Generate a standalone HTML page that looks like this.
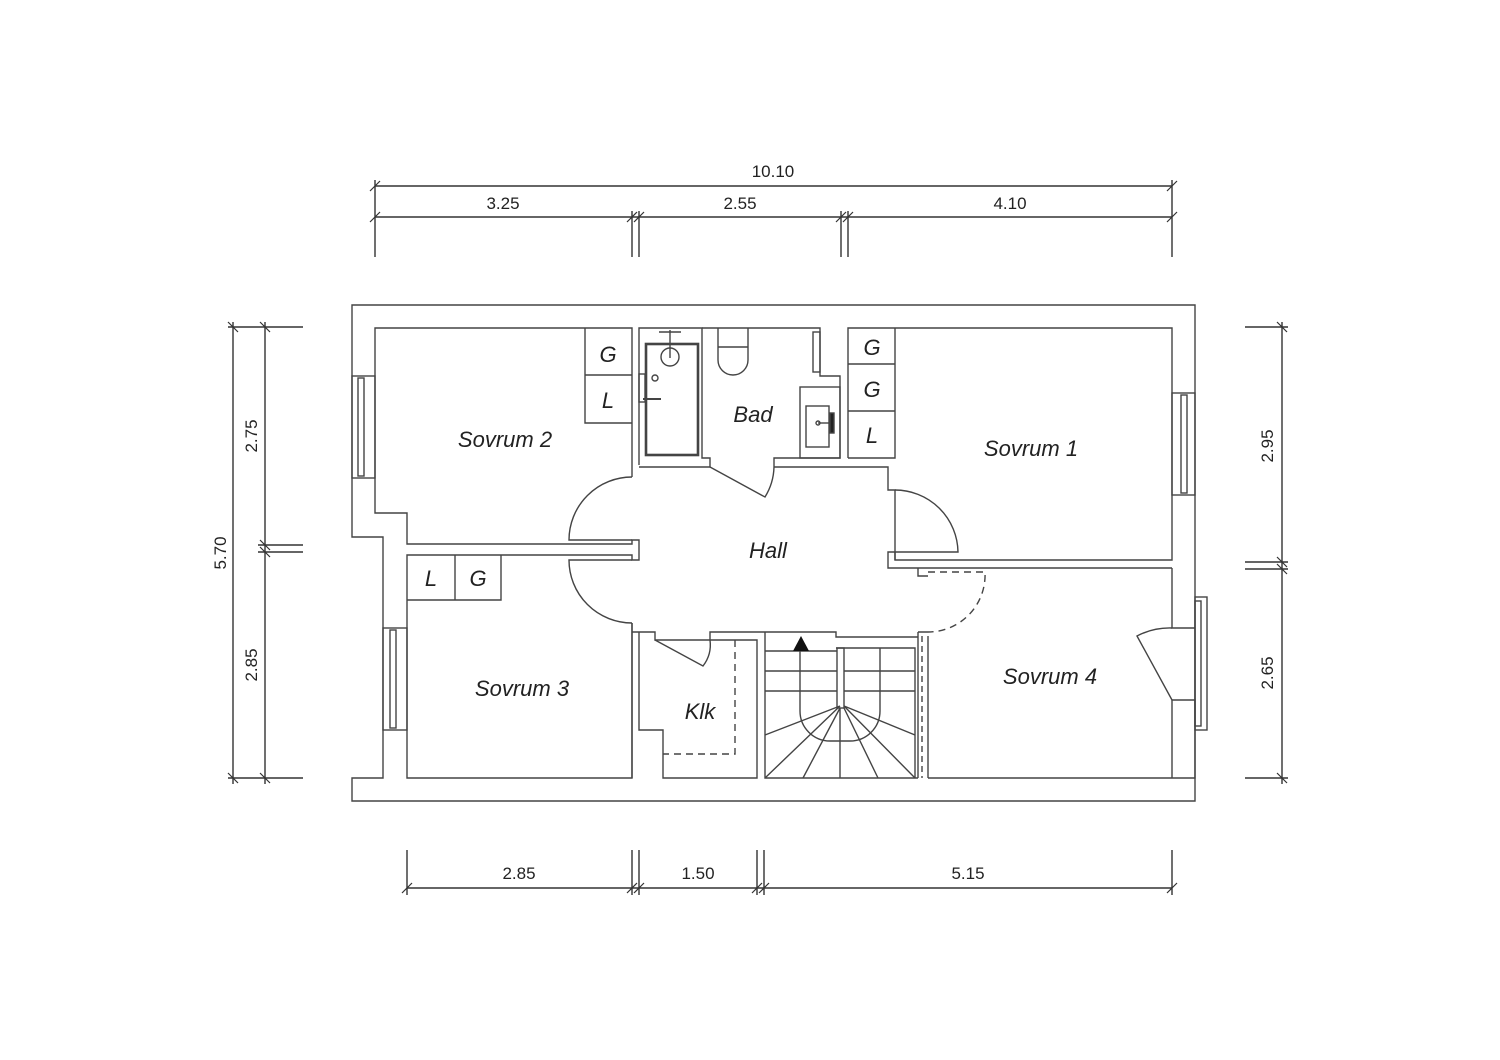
<!DOCTYPE html>
<html><head><style>html,body{margin:0;padding:0;background:#fff}svg{display:block}</style></head>
<body>
<svg width="1500" height="1060" viewBox="0 0 1500 1060" xmlns="http://www.w3.org/2000/svg" font-family="Liberation Sans, sans-serif">
<g stroke="#333" stroke-width="1.4" fill="none">
<line x1="375" y1="186" x2="1172" y2="186"/>
<line x1="375" y1="217" x2="1172" y2="217"/>
<line x1="375" y1="180" x2="375" y2="257"/><line x1="1172" y1="180" x2="1172" y2="257"/>
<line x1="632" y1="211" x2="632" y2="257"/><line x1="639" y1="211" x2="639" y2="257"/>
<line x1="841" y1="211" x2="841" y2="257"/><line x1="848" y1="211" x2="848" y2="257"/>
<g stroke-width="1.2">
<line x1="370" y1="191" x2="380" y2="181"/><line x1="1167" y1="191" x2="1177" y2="181"/>
<line x1="370" y1="222" x2="380" y2="212"/><line x1="627" y1="222" x2="637" y2="212"/><line x1="634" y1="222" x2="644" y2="212"/>
<line x1="836" y1="222" x2="846" y2="212"/><line x1="843" y1="222" x2="853" y2="212"/><line x1="1167" y1="222" x2="1177" y2="212"/>
</g>
<line x1="233" y1="322" x2="233" y2="784"/><line x1="265" y1="322" x2="265" y2="784"/>
<line x1="228" y1="327" x2="303" y2="327"/><line x1="228" y1="778" x2="303" y2="778"/>
<line x1="258" y1="545" x2="303" y2="545"/><line x1="258" y1="552" x2="303" y2="552"/>
<g stroke-width="1.2">
<line x1="228" y1="322" x2="238" y2="332"/><line x1="260" y1="322" x2="270" y2="332"/>
<line x1="228" y1="773" x2="238" y2="783"/><line x1="260" y1="773" x2="270" y2="783"/>
<line x1="260" y1="540" x2="270" y2="550"/><line x1="260" y1="547" x2="270" y2="557"/>
</g>
<line x1="1282" y1="322" x2="1282" y2="784"/>
<line x1="1245" y1="327" x2="1288" y2="327"/><line x1="1245" y1="778" x2="1288" y2="778"/>
<line x1="1245" y1="562" x2="1288" y2="562"/><line x1="1245" y1="569" x2="1288" y2="569"/>
<g stroke-width="1.2">
<line x1="1277" y1="322" x2="1287" y2="332"/><line x1="1277" y1="773" x2="1287" y2="783"/>
<line x1="1277" y1="557" x2="1287" y2="567"/><line x1="1277" y1="564" x2="1287" y2="574"/>
</g>
<line x1="407" y1="888" x2="1172" y2="888"/>
<line x1="407" y1="850" x2="407" y2="895"/><line x1="1172" y1="850" x2="1172" y2="895"/>
<line x1="632" y1="850" x2="632" y2="895"/><line x1="639" y1="850" x2="639" y2="895"/>
<line x1="757" y1="850" x2="757" y2="895"/><line x1="764" y1="850" x2="764" y2="895"/>
<g stroke-width="1.2">
<line x1="402" y1="893" x2="412" y2="883"/><line x1="627" y1="893" x2="637" y2="883"/><line x1="634" y1="893" x2="644" y2="883"/>
<line x1="752" y1="893" x2="762" y2="883"/><line x1="759" y1="893" x2="769" y2="883"/><line x1="1167" y1="893" x2="1177" y2="883"/>
</g>
</g>

<g stroke="#444" stroke-width="1.4" fill="none">
<path d="M352,537 V305 H1195 V801 H352 V778 H383 V537 Z"/>
<path d="M632,462 V328 H375 V513 H407 V544 H632 V540 H639 V560 H632 V555 H407 V778 H632 V623"/>
<path d="M632,477 V462"/>
<rect x="352" y="376" width="23" height="102"/><rect x="358" y="378" width="6" height="98"/>
<rect x="383" y="628" width="24" height="102"/><rect x="390" y="630" width="6" height="98"/>
<path d="M585,328 V423 H632 M585,375 H632"/>
<path d="M407,600 H501 V555 M455,555 V600"/>
<path d="M639,465 V328 H702 V458 H710 V467 H639"/>
<rect x="646" y="344" width="52" height="111" stroke-width="2.6"/>
<circle cx="670" cy="357" r="9"/>
<line x1="670" y1="330" x2="670" y2="358"/>
<line x1="659" y1="332" x2="681" y2="332"/>
<circle cx="655" cy="378" r="3"/>
<rect x="639" y="374" width="6" height="28"/>
<line x1="643" y1="399" x2="661" y2="399" stroke-width="2"/>
<path d="M702,328 H820 V376 H840 V458 H774 V467"/>
<path d="M718,328 V360 A15,15 0 0 0 748,360 V328 M718,347 H748"/>
<rect x="813" y="332" width="7" height="40"/>
<rect x="800" y="387" width="40" height="71"/>
<rect x="806" y="406" width="23" height="41"/>
<line x1="818" y1="423" x2="831" y2="423"/><circle cx="818" cy="423" r="2"/>
<rect x="830" y="413" width="4" height="20" fill="#222"/>
<path d="M710,467 L765,497 A60,60 0 0 0 774,467"/>
<path d="M848,458 V328 H1172 V560 H895 V490 H888 V467 H774"/>
<path d="M895,328 V458 H848 M848,364 H895 M848,411 H895"/>
<rect x="1172" y="393" width="23" height="102"/><rect x="1181" y="395" width="6" height="98"/>
<path d="M632,477 A63,63 0 0 0 569,540 H632"/>
<path d="M632,623 A63,63 0 0 1 569,560 H632"/>
<path d="M895,490 A63,63 0 0 1 958,552 H888 V568 H1172"/>
<path d="M895,560 V552"/>
<path d="M1172,568 V628 H1195 M1172,700 H1195 V778 H928"/>
<path d="M1172,700 V778"/>
<rect x="1195" y="597" width="12" height="133"/><rect x="1195" y="601" width="6" height="125"/>
<path d="M1172,700 L1137,636 A70,70 0 0 1 1172,628"/>
<path d="M918,568 V576 H928" />
<path d="M928,572 H985 A57,57 0 0 1 928,632" stroke-dasharray="7,5"/>
<path d="M918,632 H928 M918,632 V778 M928,636 V778" />
<path d="M922,636 V778" stroke-dasharray="6,4"/>
<!-- Klk -->
<path d="M632,623 V778"/>
<path d="M632,632 H655 V640 H710 V632 H765"/>
<path d="M639,632 V730 H663 V778 H757 V640 H710"/>
<path d="M655,640 L703,666 A35,35 0 0 0 710,640"/>
<path d="M735,640 V754 H663" stroke-dasharray="7,5"/>
<!-- stairs -->
<path d="M765,632 V778 H918 M765,632 H836 V637 H918"/>
<path d="M836,648 H915 V778"/>
<rect x="837" y="648" width="7" height="60"/>
<path d="M765,651 H837 M765,671 H837 M765,691 H837 M844,671 H915 M844,691 H915"/>
<path d="M800,651 V711 A30,30 0 0 0 830,741 H850 A30,30 0 0 0 880,711 V648"/>
<path d="M840,706 L765,735 M840,706 L765,778 M840,708 L803,778 M840,708 V778 M844,708 L878,778 M844,706 L915,778 M844,706 L915,735"/>
</g>
<polygon points="801,636 793,651 809,651" fill="#111"/>

<g fill="#222" font-size="17" text-anchor="middle">
<text x="773" y="177">10.10</text>
<text x="503" y="209">3.25</text>
<text x="740" y="209">2.55</text>
<text x="1010" y="209">4.10</text>
<text x="519" y="879">2.85</text>
<text x="698" y="879">1.50</text>
<text x="968" y="879">5.15</text>
<text transform="translate(226,553) rotate(-90)">5.70</text>
<text transform="translate(257,436) rotate(-90)">2.75</text>
<text transform="translate(257,665) rotate(-90)">2.85</text>
<text transform="translate(1273,446) rotate(-90)">2.95</text>
<text transform="translate(1273,673) rotate(-90)">2.65</text>
</g>
<g fill="#222" font-size="22" font-style="italic" text-anchor="middle">
<text x="505" y="447">Sovrum 2</text>
<text x="1031" y="456">Sovrum 1</text>
<text x="522" y="696">Sovrum 3</text>
<text x="1050" y="684">Sovrum 4</text>
<text x="753" y="422">Bad</text>
<text x="768" y="558">Hall</text>
<text x="700" y="719">Klk</text>
<text x="608" y="362">G</text>
<text x="608" y="408">L</text>
<text x="872" y="355">G</text>
<text x="872" y="397">G</text>
<text x="872" y="443">L</text>
<text x="431" y="586">L</text>
<text x="478" y="586">G</text>
</g>
</svg>
</body></html>
